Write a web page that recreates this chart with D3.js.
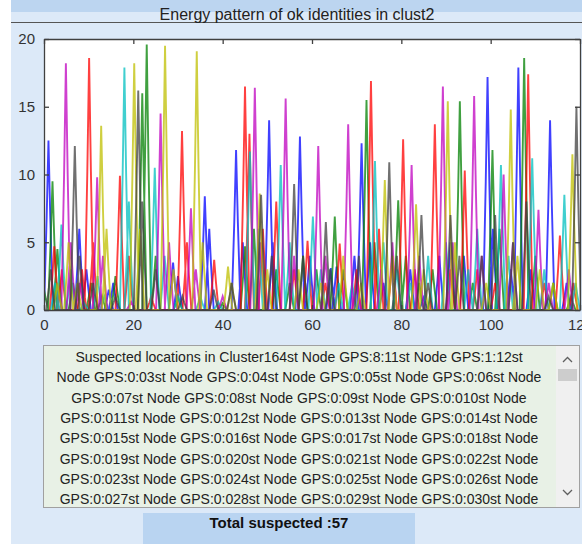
<!DOCTYPE html>
<meta charset="utf-8">
<style>
    * { margin: 0px; padding: 0px; }
    body { background: #fff; width: 582px; height: 544px; overflow: hidden; }
    text { font-family: "Liberation Sans", Arial, sans-serif; }
</style>
<svg width="582" height="544"></svg>
<script src="https://cdn.jsdelivr.net/npm/d3@7"></script>
<script>
    // peaks of each coloured trace: [x, energy]
    var bluePeaks = [[1,12.5],[3,2],[7.9,6],[9.5,3],[14.5,1.5],[15.5,2],[28.9,3.5],[30,2.5],[36,8.4],[37,6],[43,11.8],[44.5,5],[50.4,14],[51.2,5],[57.3,12.8],[59.5,4],[64.2,3.1],[65.5,3.2],[69.5,4],[71.1,12.3],[73,5],[76,2],[82,3],[85,0.9],[88.5,4],[91,5],[94,4],[99.3,17.2],[100.5,6],[104.5,3],[106.2,17.9],[109,3],[113.3,14],[117,2]];
    var greenPeaks = [[0,1.5],[1.9,9.5],[3,4.5],[6.5,2],[10.5,2],[13,1],[16,2.5],[22,16],[23,19.6],[25,4],[30,1],[40,0.5],[45,4.7],[47,6],[52,3],[55,2],[58,4],[61,3],[65.1,6.9],[67,3],[72.2,15.5],[74,5],[79.3,8.1],[81,4],[84,2],[87,3],[93.1,15.4],[96,2],[100.4,11.8],[102,6],[107.5,18.6],[110,4],[114,2],[118,1]];
    var redPeaks = [[2.3,4.7],[4,3],[8.5,3],[10.1,18.6],[11,5],[17,9.9],[19,4],[24,1],[30.9,13.2],[32,5],[38.1,3.7],[45,16.5],[46,13],[49,6],[52,8],[56,3],[59,5.1],[63,2],[66.2,4.9],[70,3],[73.2,16.9],[75,6],[78,4],[80.4,12.6],[83,3],[87.5,13.7],[91,3],[94.2,10.3],[97,3],[101,2],[108.4,17.4],[112,2],[115.5,5.5],[118.5,2]];
    var cyanPeaks = [[2.5,2],[3.9,6.3],[6,3],[9,0.5],[12,2.5],[13.5,1],[18,17.9],[19,8],[24.8,10.5],[27,4],[30,1],[35,1],[39,0.6],[46.1,11.7],[48,6],[53,10.7],[55,5],[60.2,6.9],[62,3],[66,2],[69,2],[74.1,11],[76,5],[79,3],[82,2],[86,4],[90,5],[95,3],[97,6],[102.3,10.7],[104,4],[109.3,11.2],[112,3],[116.5,8.5],[119,2]];
    var magentaPeaks = [[4.9,18.2],[6,5],[8,2],[11.9,9.8],[13.2,4],[19.5,0.6],[26.1,14.5],[28,5],[32.9,7.5],[34,3],[40,1],[47.2,16.4],[48.5,5],[54.1,15.6],[56,4],[61.4,12.1],[63,4],[68.1,13.7],[70,2],[75.5,3],[78,5],[82.3,10.7],[84,4],[89.3,16.5],[91.5,5],[96.3,15.8],[98,4],[102.9,10],[105,5],[110.7,7.4],[113,2],[117.5,3]];
    var yellowPeaks = [[3,2],[5.5,5],[7.5,2],[12.8,13.6],[14,6],[20.2,18.2],[21.5,6],[27.1,19.5],[29,3],[34.2,19.1],[35.5,5],[41.2,3.2],[42,2],[48.3,8.6],[50,3],[57,3],[62,2],[67,4],[71,2],[76.3,9.6],[78,4],[83.3,7.8],[85,3],[90.4,15.4],[92,5],[99,2],[104.5,14.8],[106,4],[111,3],[114,2],[118.3,11.5]];
    var greyPeaks = [[1.5,3],[6.9,12.1],[8,4],[11,2],[16,1],[21.1,16.2],[22,8],[25,3],[31,1],[38,1.5],[42,2],[48.6,8.5],[51,4],[56,9.3],[58,4],[63.1,6.5],[64,3],[70.5,4],[77.3,10.9],[79,4],[84.5,7],[86,2],[91,7],[93,4],[98,4],[101,7],[105,5],[108,8],[113,1],[119.2,15]];

    var seriesNames = ["blue", "green", "red", "cyan", "magenta", "yellow", "grey"];
    var seriesColors = ["#0000ff", "#008000", "#ff0000", "#00bfbf", "#bf00bf", "#bfbf00", "#404040"];
    var seriesPeaks = [bluePeaks, greenPeaks, redPeaks, cyanPeaks, magentaPeaks, yellowPeaks, greyPeaks];

    var xTicks = [0, 20, 40, 60, 80, 100, 120];
    var yTicks = [0, 5, 10, 15, 20];

    var title = "Energy pattern of ok identities in clust2";
    var suspectLines = [
        "Suspected locations in Cluster164st Node GPS:8:11st Node GPS:1:12st",
        "Node GPS:0:03st Node GPS:0:04st Node GPS:0:05st Node GPS:0:06st Node",
        "GPS:0:07st Node GPS:0:08st Node GPS:0:09st Node GPS:0:010st Node",
        "GPS:0:011st Node GPS:0:012st Node GPS:0:013st Node GPS:0:014st Node",
        "GPS:0:015st Node GPS:0:016st Node GPS:0:017st Node GPS:0:018st Node",
        "GPS:0:019st Node GPS:0:020st Node GPS:0:021st Node GPS:0:022st Node",
        "GPS:0:023st Node GPS:0:024st Node GPS:0:025st Node GPS:0:026st Node",
        "GPS:0:027st Node GPS:0:028st Node GPS:0:029st Node GPS:0:030st Node"
    ];
    var totalText = "Total suspected :57";

    var svg = d3.select("svg");

    // figure panel
    svg.append("rect").attr("x", 11).attr("y", 0).attr("width", 571).attr("height", 544).attr("fill", "#dce9f8");
    svg.append("rect").attr("x", 11).attr("y", 0).attr("width", 571).attr("height", 12).attr("fill", "#bcd5f0");
    svg.append("line").attr("x1", 11).attr("x2", 582).attr("y1", 22.5).attr("y2", 22.5)
        .attr("stroke", "#555").attr("stroke-width", 1.2);
    svg.append("text").attr("x", 297).attr("y", 20).attr("text-anchor", "middle")
        .attr("font-size", 16).attr("fill", "#222").text(title);

    var plotLeft = 44, plotRight = 580, plotTop = 39, plotBottom = 310;
    var x = d3.scaleLinear().domain([0, 120]).range([plotLeft, plotRight]);
    var y = d3.scaleLinear().domain([0, 20]).range([plotBottom, plotTop]);

    svg.append("rect").attr("x", plotLeft).attr("y", plotTop)
        .attr("width", plotRight - plotLeft).attr("height", plotBottom - plotTop).attr("fill", "#fff");

    svg.append("clipPath").attr("id", "plot").append("rect")
        .attr("x", plotLeft).attr("y", plotTop).attr("width", plotRight - plotLeft).attr("height", plotBottom - plotTop);

    var halfWidth = 1.0;
    var line = d3.line().x(function(d) { return x(d[0]); }).y(function(d) { return y(d[1]); });

    var g = svg.append("g").attr("clip-path", "url(#plot)");
    seriesPeaks.forEach(function(peaks, i) {
        var pts = [];
        peaks.forEach(function(p) {
            pts.push([p[0] - halfWidth, 0], [p[0] - halfWidth * 0.4, p[1] * 0.55], [p[0], p[1]],
                     [p[0] + halfWidth * 0.4, p[1] * 0.55], [p[0] + halfWidth, 0]);
        });
        g.append("path").datum(pts)
            .attr("class", seriesNames[i])
            .attr("fill", "none")
            .attr("stroke", seriesColors[i])
            .attr("stroke-width", 1.9)
            .attr("stroke-opacity", 0.75)
            .attr("d", line);
    });

    // axes, MATLAB style with inward ticks
    var axisColor = "#404040";
    svg.append("g").attr("transform", "translate(0," + plotBottom + ")")
        .call(d3.axisBottom(x).tickValues(xTicks).tickSizeInner(-5).tickSizeOuter(0).tickPadding(9));
    svg.append("g").attr("transform", "translate(0," + plotTop + ")")
        .call(d3.axisTop(x).tickValues(xTicks).tickSizeInner(-5).tickSizeOuter(0).tickFormat(""));
    svg.append("g").attr("transform", "translate(" + plotLeft + ",0)")
        .call(d3.axisLeft(y).tickValues(yTicks).tickSizeInner(-5).tickSizeOuter(0).tickPadding(9));
    svg.append("g").attr("transform", "translate(" + plotRight + ",0)")
        .call(d3.axisRight(y).tickValues(yTicks).tickSizeInner(-5).tickSizeOuter(0).tickFormat(""));
    svg.selectAll(".domain, .tick line").attr("stroke", axisColor).attr("stroke-width", 1.3);
    svg.selectAll(".tick text").attr("font-family", "'Liberation Sans', Arial, sans-serif")
        .attr("font-size", 15).attr("fill", "#333");

    // suspected list box
    svg.append("rect").attr("x", 43.5).attr("y", 345.5).attr("width", 536).attr("height", 162)
        .attr("fill", "#e8f1e6").attr("stroke", "#a0a0a0");
    svg.append("rect").attr("x", 556).attr("y", 346).attr("width", 23).attr("height", 161).attr("fill", "#f0f0f0");
    svg.append("rect").attr("x", 558).attr("y", 369).attr("width", 19).attr("height", 12).attr("fill", "#cdcdcd");
    svg.append("path").attr("d", "M563,362 L567.5,357.5 L572,362").attr("fill", "none").attr("stroke", "#606060").attr("stroke-width", 1.3);
    svg.append("path").attr("d", "M563,490 L567.5,494.5 L572,490").attr("fill", "none").attr("stroke", "#606060").attr("stroke-width", 1.3);

    svg.append("g").selectAll("text").data(suspectLines).enter().append("text")
        .attr("x", 299)
        .attr("y", function(d, i) { return 362 + i * 20.3; })
        .attr("text-anchor", "middle")
        .attr("font-size", 14)
        .attr("fill", "#222")
        .text(function(d) { return d; });

    // total button
    svg.append("rect").attr("x", 143).attr("y", 513).attr("width", 272).attr("height", 31).attr("fill", "#b9d4f1");
    svg.append("text").attr("x", 279).attr("y", 528).attr("text-anchor", "middle")
        .attr("font-size", 15).attr("font-weight", "bold").attr("fill", "#111").text(totalText);
</script>
